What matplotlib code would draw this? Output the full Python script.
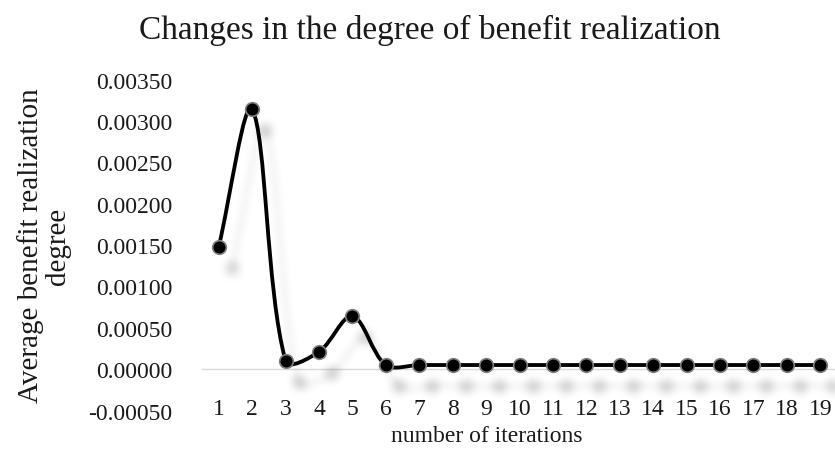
import numpy as np
import matplotlib
matplotlib.use("Agg")
import matplotlib.pyplot as plt
from matplotlib.path import Path
from matplotlib.patches import PathPatch
from matplotlib.ticker import FuncFormatter

plt.rcParams["font.family"] = ["Liberation Serif", "DejaVu Serif"]
plt.rcParams["axes.unicode_minus"] = False

# Data
iterations = list(range(1, 20))
benefit = [0.00148, 0.00314, 0.00010, 0.00021, 0.00064, 0.00005,
           0.00005, 0.00005, 0.00005, 0.00005, 0.00005, 0.00005,
           0.00005, 0.00005, 0.00005, 0.00005, 0.00005, 0.00005, 0.00005]
y_ticks = [-0.0005, 0.0, 0.0005, 0.0010, 0.0015, 0.0020, 0.0025, 0.0030, 0.0035]

title = "Changes in the degree of benefit realization"
x_title = "number of iterations"
y_title = "Average benefit realization\ndegree"

TEXT = "#1a1a1a"
W, H, DPI = 835, 452, 100
fig = plt.figure(figsize=(W / DPI, H / DPI), dpi=DPI)
ax = fig.add_axes([202 / W, 1 - 411.5 / H, 635 / W, (411.5 - 80.7) / H])
ax.set_xlim(0.5, 19.5)
ax.set_ylim(y_ticks[0], y_ticks[-1])


def smooth_path(xs, ys, transform, scale=1 / 3):
    """Bezier spline through the points, control arms sized by the
    neighbouring segment lengths measured on screen."""
    pts = transform.transform(np.column_stack([xs, ys]))
    n = len(pts)
    seg = np.hypot(*np.diff(pts, axis=0).T)
    c_out = np.zeros_like(pts)
    c_in = np.zeros_like(pts)
    for i in range(n):
        if i == 0:
            c_out[i] = pts[0] + (pts[1] - pts[0]) * scale
            continue
        if i == n - 1:
            c_in[i] = pts[-1] - (pts[-1] - pts[-2]) * scale
            continue
        tan = pts[i + 1] - pts[i - 1]
        d0, d1 = seg[i - 1], seg[i]
        c_in[i] = pts[i] - tan * scale * d0 / (d0 + d1)
        c_out[i] = pts[i] + tan * scale * d1 / (d0 + d1)
    verts = [pts[0]]
    codes = [Path.MOVETO]
    for i in range(n - 1):
        verts += [c_out[i], c_in[i + 1], pts[i + 1]]
        codes += [Path.CURVE4] * 3
    verts = transform.inverted().transform(np.array(verts))
    return Path(verts, codes)


def gauss_blur(a, sigma):
    r = int(3 * sigma)
    k = np.exp(-0.5 * (np.arange(-r, r + 1) / sigma) ** 2)
    k /= k.sum()
    a = np.apply_along_axis(lambda v: np.convolve(v, k, mode="same"), 0, a)
    a = np.apply_along_axis(lambda v: np.convolve(v, k, mode="same"), 1, a)
    return a


def make_shadow(dx=13, dy=21, sigma=4.0, opacity=0.12):
    def shadow_filter(im, dpi):
        pad = int(max(dx, dy) + 4 * sigma)
        a = np.pad(im, [(pad, pad), (pad, pad), (0, 0)], "constant")
        alpha = np.roll(np.roll(a[..., 3], dx, axis=1), dy, axis=0)
        alpha = gauss_blur(alpha, sigma) * opacity
        out = np.zeros_like(a)
        out[..., 3] = np.clip(alpha, 0, 1)
        return out, -pad, -pad
    return shadow_filter


# Soft drop shadow of the series
path = smooth_path(iterations, benefit, ax.transData)
shadow_line = PathPatch(path, facecolor="none", edgecolor="black", lw=2.75,
                        zorder=1)
shadow_line.set_agg_filter(make_shadow(opacity=0.09))
shadow_line.set_rasterized(True)
ax.add_patch(shadow_line)
(shadow_pts,) = ax.plot(iterations, benefit, ls="none", marker="o", ms=9.5,
                        mfc="black", mec="black", zorder=1)
shadow_pts.set_agg_filter(make_shadow(opacity=0.15))
shadow_pts.set_rasterized(True)

# Zero line
ax.axhline(0, color="#d9d9d9", lw=1.0, zorder=0)

# Series
ax.add_patch(PathPatch(path, facecolor="none", edgecolor="black", lw=2.75,
                       capstyle="round", joinstyle="round", zorder=3))
ax.plot(iterations, benefit, ls="none", marker="o", ms=9.8, mfc="black",
        mec="#7f7f7f", mew=1.2, zorder=4)

for s in ax.spines.values():
    s.set_visible(False)
# category labels hang from the zero line
ax.spines["bottom"].set_position(("data", 0))

ax.set_yticks(y_ticks)
ax.yaxis.set_major_formatter(FuncFormatter(lambda v, p: f"{abs(v):.5f}" if abs(v) < 1e-12 else f"{v:.5f}"))
ax.tick_params(axis="y", length=0, pad=21.5, labelsize=17, labelcolor=TEXT)

ax.set_xticks(iterations)
ax.set_xticklabels([str(i) for i in iterations])
ax.tick_params(axis="x", length=0, pad=21, labelsize=17, labelcolor=TEXT)

fig.text(430 / W, 1 - 30 / H, title, ha="center", va="center", fontsize=24,
         color=TEXT)
fig.text(487 / W, 1 - 437 / H, x_title, ha="center", va="center",
         fontsize=17, color=TEXT)
fig.text(44 / W, 1 - 246 / H, y_title, ha="center", va="center",
         rotation=90, fontsize=21, color=TEXT, linespacing=1.05)

fig.savefig("out.png", dpi=DPI)
